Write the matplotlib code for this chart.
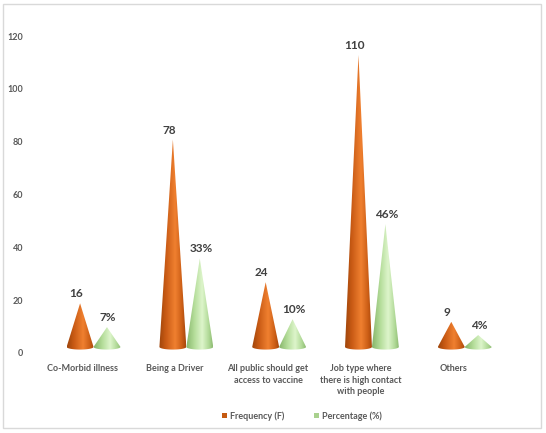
import numpy as np
import matplotlib
matplotlib.use("Agg")
import matplotlib.pyplot as plt
from matplotlib.patches import Polygon, Patch, Rectangle
from matplotlib.colors import LinearSegmentedColormap

categories = ["Co-Morbid illness", "Being a Driver",
              "All public should get\naccess to vaccine",
              "Job type where\nthere is high contact\nwith people", "Others"]
frequency = [16, 78, 24, 110, 9]
percentage = [7, 33, 10, 46, 4]
pct_labels = ["7%", "33%", "10%", "46%", "4%"]
series_names = ["Frequency (F)", "Percentage (%)"]
yticks = [0, 20, 40, 60, 80, 100, 120]

plt.rcParams['font.family'] = ['Lato', 'DejaVu Sans']

W, H = 546, 433
fig = plt.figure(figsize=(W / 100, H / 100), dpi=100)
ax = fig.add_axes([36 / W, 80 / H, 464 / W, 317 / H])

orange_cmap = LinearSegmentedColormap.from_list(
    "o", [(0, "#9E450B"), (0.25, "#C85A14"), (0.6, "#F08030"), (0.85, "#CC5E16"), (1, "#A8480C")])
green_cmap = LinearSegmentedColormap.from_list(
    "g", [(0, "#86B46A"), (0.3, "#B3DC98"), (0.6, "#DDF5CB"), (0.85, "#B0D996"), (1, "#8DBB72")])

shift = 0.12
hw = 0.145
base_c = 2.3
tip_off = 2.8
ell = 1.0


def cone(cx, value, cmap):
    top = value + tip_off
    t = np.linspace(0, np.pi, 40)
    pts = [(cx - hw, base_c), (cx, top), (cx + hw, base_c)]
    pts += [(cx + hw * np.cos(a), base_c - ell * np.sin(a)) for a in t]
    poly = Polygon(pts, closed=True, facecolor="none", edgecolor="none")
    ax.add_patch(poly)
    grad = np.linspace(0, 1, 256)[None, :]
    im = ax.imshow(grad, cmap=cmap, aspect="auto",
                   extent=[cx - hw, cx + hw, base_c - ell, top],
                   origin="lower", zorder=2, interpolation="bilinear")
    im.set_clip_path(poly)
    return top


for i, (f, p) in enumerate(zip(frequency, percentage)):
    cx_o = i + shift - hw
    cx_g = i + shift + hw
    t_o = cone(cx_o, f, orange_cmap)
    t_g = cone(cx_g, p, green_cmap)
    ax.annotate(str(f), (cx_o, t_o), xytext=(-4, 9.5), textcoords="offset pixels",
                ha="center", va="center", fontsize=8.5, fontweight="bold", color="#404040")
    ax.annotate(pct_labels[i], (cx_g, t_g), xytext=(1, 9.5), textcoords="offset pixels",
                ha="center", va="center", fontsize=8.5, fontweight="bold", color="#404040")

ax.set_xlim(-0.5, len(categories) - 0.5)
ax.set_ylim(0, 120)
ax.set_yticks(yticks)
ax.set_yticklabels([str(v) for v in yticks], fontsize=6.5, color="#595959", fontweight="bold")
ax.set_xticks(range(len(categories)))
ax.set_xticklabels(categories, fontsize=6.5, color="#595959", fontweight="bold", linespacing=1.35)
ax.tick_params(axis="both", length=0)
ax.tick_params(axis="y", pad=9)
ax.tick_params(axis="x", pad=8)
for s in ax.spines.values():
    s.set_visible(False)

handles = [Patch(facecolor="#C55A11", edgecolor="none"),
           Patch(facecolor="#A9D18E", edgecolor="none")]
leg = fig.legend(handles, series_names, loc="center", bbox_to_anchor=(302 / W, 17 / H),
                 ncol=2, frameon=False, fontsize=6.5, handlelength=0.55, handleheight=0.55,
                 handletextpad=0.4, columnspacing=3.2)
for txt in leg.get_texts():
    txt.set_color("#595959")
    txt.set_fontweight("bold")

fig.patches.append(Rectangle((3 / W, 5 / H), 538 / W, 424 / H, transform=fig.transFigure,
                             fill=False, edgecolor="#D9D9D9", linewidth=1.0))

fig.savefig("out.png", dpi=100)
